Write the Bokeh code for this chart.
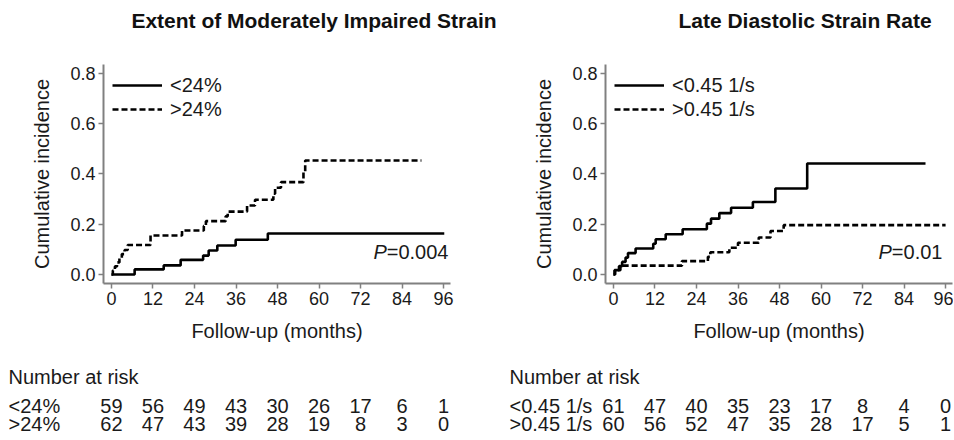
from bokeh.plotting import figure
from bokeh.layouts import row, column
from bokeh.models import (Range1d, FixedTicker, Legend, LegendItem,
                          PrintfTickFormatter, Spacer)
from bokeh.core.properties import value
from bokeh.embed import file_html
from bokeh.resources import INLINE

FONT = "Liberation Sans"
TEXT = "#1a1a1a"
AXIS = "#808080"

# follow-up ticks (months) shared by both panels and the risk tables
month_ticks = [0, 12, 24, 36, 48, 60, 72, 84, 96]
incidence_ticks = [0.0, 0.2, 0.4, 0.6, 0.8]

# --- Extent of moderately impaired strain: cumulative incidence steps ---
ext_title = "Extent of Moderately Impaired Strain"
ext_low_t = [0, 6.7, 15.1, 20.0, 26.5, 28.1, 30.6, 35.9, 45.2, 96.2]
ext_low_v = [0, 0.020, 0.036, 0.058, 0.075, 0.095, 0.115, 0.138, 0.163, 0.163]
ext_high_t = [0, 0.4, 1.0, 1.6, 2.3, 3.0, 3.8, 4.7, 11.3, 20.4, 26.7, 27.3,
              33.0, 33.6, 39.2, 41.5, 46.8, 47.3, 49.0, 55.5, 56.0, 89.6]
ext_high_v = [0, 0.016, 0.032, 0.048, 0.065, 0.081, 0.097, 0.117, 0.155, 0.175, 0.193, 0.212,
              0.231, 0.250, 0.274, 0.297, 0.321, 0.345, 0.367, 0.410, 0.453, 0.453]
ext_labels = ["<24%", ">24%"]
ext_p = "0.004"
ext_risk_low = [59, 56, 49, 43, 30, 26, 17, 6, 1]
ext_risk_high = [62, 47, 43, 39, 28, 19, 8, 3, 0]

# --- Late diastolic strain rate: cumulative incidence steps ---
lds_title = "Late Diastolic Strain Rate"
lds_low_t = [0, 0.3, 1.6, 2.5, 3.5, 4.2, 6.4, 11.5, 12.2, 15.1, 20.0, 27.0, 28.2,
             30.6, 34.0, 40.3, 46.8, 56.0, 90.2]
lds_low_v = [0, 0.017, 0.033, 0.050, 0.067, 0.085, 0.103, 0.122, 0.140, 0.160, 0.180, 0.202, 0.222,
             0.244, 0.265, 0.288, 0.342, 0.441, 0.441]
lds_high_t = [0, 0.5, 2.0, 19.8, 27.3, 28.0, 33.5, 36.0, 42.0, 45.4, 49.2, 96.0]
lds_high_v = [0, 0.017, 0.035, 0.053, 0.070, 0.088, 0.106, 0.126, 0.147, 0.173, 0.196, 0.196]
lds_labels = ["<0.45 1/s", ">0.45 1/s"]
lds_p = "0.01"
lds_risk_low = [61, 47, 40, 35, 23, 17, 8, 4, 0]
lds_risk_high = [60, 56, 52, 47, 35, 28, 17, 5, 1]

X_START, X_END = -2.3, 98.0
Y_START, Y_END = -0.036, 0.835
FRAME_W, FRAME_H = 347, 219
PPM = FRAME_W / (X_END - X_START)      # pixels per month

TITLE_H, TABLE_H = 40, 90
KM_TOP, KM_BOTTOM = 24, 67
LEFT_FRAME_X, RIGHT_FRAME_X = 103, 605  # canvas x of each plot frame's left edge
SPLIT = 501


def style_text(**kw):
    base = dict(text_font=value(FONT), text_font_size="20px", text_color=TEXT,
                text_baseline="middle")
    base.update(kw)
    return base


def bare(width, height, x_range, y_range):
    f = figure(width=width, height=height, x_range=x_range, y_range=y_range,
               x_axis_location=None, y_axis_location=None, min_border=0,
               output_backend="svg", toolbar_location=None)
    f.outline_line_color = None
    f.grid.visible = False
    return f


def title_strip(text, width, center_px):
    t = bare(width, TITLE_H, Range1d(0, width), Range1d(TITLE_H, 0))
    t.text(x=[center_px], y=[19.5], text=[text],
           **style_text(text_font_size="21px", text_font_style="bold",
                        text_color="#111111", text_align="center"))
    return t


def km_plot(lo_t, lo_v, hi_t, hi_v, labels, p_val, p_x, p_w, left_b, right_b):
    p = figure(frame_width=FRAME_W, frame_height=FRAME_H,
               min_border_left=left_b, min_border_right=right_b,
               min_border_top=KM_TOP, min_border_bottom=KM_BOTTOM,
               x_range=Range1d(X_START, X_END), y_range=Range1d(Y_START, Y_END),
               output_backend="svg", toolbar_location=None)
    p.outline_line_color = None
    p.grid.visible = False

    for ax in (p.xaxis[0], p.yaxis[0]):
        ax.axis_line_color = AXIS
        ax.axis_line_width = 2
        ax.major_tick_line_color = AXIS
        ax.major_tick_line_width = 1.5
        ax.major_tick_out = 5
        ax.major_tick_in = 0
        ax.minor_tick_line_color = None
        ax.major_label_text_font = FONT
        ax.major_label_text_font_size = "18px"
        ax.major_label_text_color = TEXT
        ax.axis_label_text_font = FONT
        ax.axis_label_text_font_size = "20px"
        ax.axis_label_text_font_style = "normal"
        ax.axis_label_text_color = TEXT
    p.xaxis.ticker = FixedTicker(ticks=month_ticks)
    p.yaxis.ticker = FixedTicker(ticks=incidence_ticks)
    p.yaxis.formatter = PrintfTickFormatter(format="%.1f")
    p.xaxis.major_label_standoff = 3
    p.yaxis.major_label_standoff = 3
    p.xaxis.axis_label = "Follow-up (months)"
    p.yaxis.axis_label = "Cumulative incidence"
    p.xaxis.axis_label_standoff = 12
    p.yaxis.axis_label_standoff = 14

    r_lo = p.step(lo_t, lo_v, mode="after", line_color="black", line_width=2.6)
    r_hi = p.step(hi_t, hi_v, mode="after", line_color="black", line_width=2.6,
                  line_dash="6 3")

    legend = Legend(items=[LegendItem(label=labels[0], renderers=[r_lo]),
                           LegendItem(label=labels[1], renderers=[r_hi])],
                    location="top_left", border_line_color=None,
                    background_fill_alpha=0, label_text_font=FONT,
                    label_text_font_size="20px", label_text_color=TEXT,
                    glyph_width=50, glyph_height=24, label_height=24,
                    label_standoff=8, padding=7, margin=9, spacing=0)
    p.add_layout(legend)

    p.text(x=[p_x], y=[0.089], text=["=" + p_val], **style_text(text_align="right"))
    p.text(x=[p_x], y=[0.089], text=["P"], x_offset=-p_w,
           **style_text(text_align="right", text_font_style="italic"))
    return p


def risk_table(labels, low, high, canvas_left, width, frame_x, label_px):
    # month scale identical to the plot above, shifted to this strip's canvas
    x0 = X_START + (canvas_left - frame_x) / PPM
    t = bare(width, TABLE_H, Range1d(x0, x0 + width / PPM), Range1d(TABLE_H, 0))
    lx = X_START + (label_px - frame_x) / PPM
    t.text(x=[lx], y=[26.5], text=["Number at risk"], **style_text(text_align="left"))
    t.text(x=[lx, lx], y=[55.5, 73.5], text=labels, **style_text(text_align="left"))
    t.text(x=month_ticks, y=[55.5] * len(low), text=[str(v) for v in low],
           **style_text(text_align="center"))
    t.text(x=month_ticks, y=[73.5] * len(high), text=[str(v) for v in high],
           **style_text(text_align="center"))
    return t


# title strips (offset by a 1px spacer so their frames stay independent)
title_l = title_strip(ext_title, 499, 312.5)
title_r = title_strip(lds_title, 454, 304.5)

km_l = km_plot(ext_low_t, ext_low_v, ext_high_t, ext_high_v, ext_labels,
               ext_p, 97.4, 61.7, LEFT_FRAME_X, SPLIT - LEFT_FRAME_X - FRAME_W)
km_r = km_plot(lds_low_t, lds_low_v, lds_high_t, lds_high_v, lds_labels,
               lds_p, 95.1, 50.6, RIGHT_FRAME_X - SPLIT, 953 - RIGHT_FRAME_X - FRAME_W)

tab_l = risk_table(ext_labels, ext_risk_low, ext_risk_high, 1, 476, LEFT_FRAME_X, 8)
tab_r = risk_table(lds_labels, lds_risk_low, lds_risk_high, 477, 477, RIGHT_FRAME_X, 509)

layout = column(
    row(Spacer(width=1, height=TITLE_H), title_l, title_r),
    row(km_l, km_r),
    row(Spacer(width=1, height=TABLE_H), tab_l, tab_r),
)

open("out.html", "w").write(file_html(layout, INLINE))
